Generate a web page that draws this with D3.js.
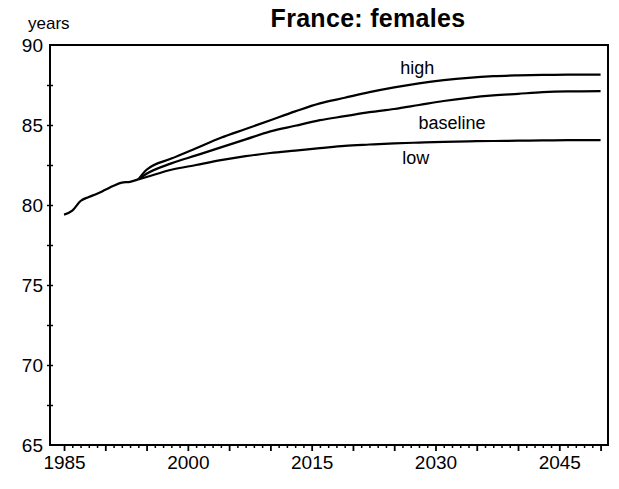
<!DOCTYPE html>
<html>
<head>
<meta charset="utf-8">
<script src="https://cdn.jsdelivr.net/npm/d3@7"></script>
<style>
  body { margin: 0; background: #fff; }
  svg text { font-family: "Liberation Sans", Arial, sans-serif; fill: #000; }
</style>
</head>
<body>
<svg id="chart" width="619" height="489"></svg>
<script>
// observed period, then three projection variants that start where history ends
const histYears = [1985, 1986, 1987, 1988, 1989, 1990, 1991, 1992, 1993, 1994];
const histValues = [79.4, 79.65, 80.25, 80.5, 80.7, 80.95, 81.2, 81.4, 81.45, 81.6];

const projYears = [1994, 1995, 1998, 2001, 2004, 2007, 2010, 2013, 2016, 2019, 2022, 2025, 2028, 2031, 2034, 2037, 2040, 2043, 2046, 2050];
const highValues = [81.6, 82.2, 82.9, 83.55, 84.2, 84.75, 85.3, 85.85, 86.35, 86.7, 87.05, 87.35, 87.6, 87.8, 87.95, 88.05, 88.1, 88.13, 88.15, 88.15];
const baselineValues = [81.6, 81.95, 82.6, 83.1, 83.6, 84.1, 84.6, 84.95, 85.3, 85.55, 85.8, 86.0, 86.25, 86.5, 86.7, 86.85, 86.95, 87.05, 87.1, 87.12];
const lowValues = [81.6, 81.75, 82.2, 82.5, 82.8, 83.05, 83.25, 83.4, 83.55, 83.7, 83.78, 83.85, 83.9, 83.95, 83.98, 84.0, 84.02, 84.04, 84.05, 84.06];

const xLabelYears = [1985, 2000, 2015, 2030, 2045];
const yLabelValues = [65, 70, 75, 80, 85, 90];
const seriesLabels = [
    { name: "high", year: 2027.8, value: 88.2 },
    { name: "baseline", year: 2032, value: 84.75 },
    { name: "low", year: 2027.6, value: 82.55 }
];

const svg = d3.select("#chart");
const margins = { top: 45, right: 11, bottom: 44, left: 50 };
const width = 619;
const height = 489;

const xScale = d3.scaleLinear()
    .domain([1983.3, 2050.9])
    .range([margins.left, width - margins.right]);
const yScale = d3.scaleLinear()
    .domain([65, 90])
    .range([height - margins.bottom, margins.top]);

// title and unit
svg.append("text")
    .attr("x", 368).attr("y", 27)
    .attr("text-anchor", "middle")
    .attr("font-size", "25px").attr("font-weight", "bold")
    .attr("letter-spacing", "0.3px")
    .text("France: females");
svg.append("text")
    .attr("x", 28).attr("y", 29)
    .attr("font-size", "17px")
    .text("years");

// x axis: yearly minor ticks, longer every 5 years
const minorYears = d3.range(1985, 2051);
svg.append("g")
    .attr("transform", `translate(0, ${height - margins.bottom})`)
    .call(d3.axisBottom(xScale).tickValues(minorYears.filter(y => y % 5 !== 0)).tickSize(3).tickFormat(""))
    .call(g => g.select(".domain").remove())
    .call(g => g.selectAll("line").attr("stroke-width", 1.5));
svg.append("g")
    .attr("transform", `translate(0, ${height - margins.bottom})`)
    .call(d3.axisBottom(xScale).tickValues(minorYears.filter(y => y % 5 === 0)).tickSize(6).tickFormat(""))
    .call(g => g.select(".domain").remove())
    .call(g => g.selectAll("line").attr("stroke-width", 1.8));
svg.append("g")
    .attr("transform", `translate(0, ${height - margins.bottom})`)
    .call(d3.axisBottom(xScale).tickValues(xLabelYears).tickSize(0).tickPadding(10).tickFormat(d3.format("d")))
    .call(g => g.select(".domain").remove())
    .call(g => g.selectAll("text").attr("font-size", "19px").attr("dy", "0.75em"));

// y axis: ticks every 2.5 crossing the axis, labels every 5
const yTickValues = d3.range(67.5, 90, 2.5);
svg.append("g")
    .attr("transform", `translate(${margins.left + 3}, 0)`)
    .call(d3.axisLeft(yScale).tickValues(yTickValues).tickSize(6).tickFormat(""))
    .call(g => g.select(".domain").remove())
    .call(g => g.selectAll("line").attr("stroke-width", 1.5));
svg.append("g")
    .attr("transform", `translate(${margins.left}, 0)`)
    .call(d3.axisLeft(yScale).tickValues(yLabelValues).tickSize(0).tickPadding(7).tickFormat(d3.format("d")))
    .call(g => g.select(".domain").remove())
    .call(g => g.selectAll("text").attr("font-size", "19px"));

// frame
svg.append("rect")
    .attr("x", margins.left).attr("y", margins.top)
    .attr("width", width - margins.left - margins.right)
    .attr("height", height - margins.top - margins.bottom)
    .attr("fill", "none").attr("stroke", "#000").attr("stroke-width", 2);

const line = d3.line()
    .x(d => xScale(d[0]))
    .y(d => yScale(d[1]))
    .curve(d3.curveMonotoneX);

function drawLine(years, values) {
    svg.append("path")
        .datum(years.map((y, i) => [y, values[i]]))
        .attr("fill", "none")
        .attr("stroke", "#000")
        .attr("stroke-width", 2.2)
        .attr("stroke-linejoin", "round")
        .attr("d", line);
}
drawLine(histYears, histValues);
drawLine(projYears, highValues);
drawLine(projYears, baselineValues);
drawLine(projYears, lowValues);

svg.selectAll(".series-label")
    .data(seriesLabels)
    .join("text")
    .attr("class", "series-label")
    .attr("x", d => xScale(d.year))
    .attr("y", d => yScale(d.value))
    .attr("text-anchor", "middle")
    .attr("font-size", "18px")
    .text(d => d.name);
</script>
</body>
</html>
